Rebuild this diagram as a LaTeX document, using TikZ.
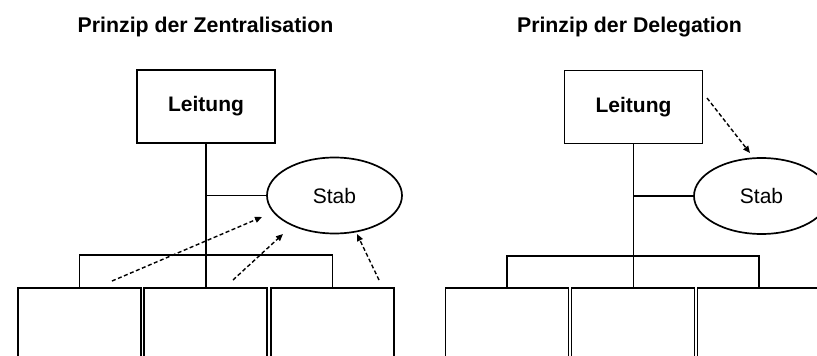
\documentclass[tikz,border=0pt]{standalone}
\usepackage{fontspec}
\setmainfont{Liberation Sans}
\usetikzlibrary{arrows.meta,shapes.geometric}
\begin{document}
\begin{tikzpicture}[x=1pt,y=-1pt,
  lbox/.style={draw,line width=1.7pt,minimum width=138pt,minimum height=73pt,inner sep=0pt,font=\fontsize{21}{25}\selectfont\bfseries},
  stabell/.style={draw,ellipse,line width=1.7pt,minimum width=135pt,minimum height=76pt,inner sep=0pt,font=\fontsize{21}{25}\selectfont},
  unitbox/.style={draw,line width=1.7pt,minimum width=123pt,minimum height=83pt,inner sep=0pt,anchor=north},
  link/.style={line width=1.7pt},
  dasharrow/.style={line width=1.4pt,dash pattern=on 4pt off 2.5pt,-{Triangle[length=7pt,width=6pt]}},
  title/.style={font=\fontsize{21.3}{25}\selectfont\bfseries,anchor=base,inner sep=0pt}]
\path[use as bounding box] (0,0) rectangle (817,356);
\clip (0,0) rectangle (817,356);

% ---------- Zentralisation ----------
\node[title] (tz) at (205.5,32.5) {Prinzip der Zentralisation};
\node[lbox] (lz) at (206,106.5) {Leitung};
\node[stabell] (sz) at (334.5,195.5) {Stab};
\node[unitbox] (bz1) at (79.5,287) {};
\node[unitbox] (bz2) at (205.5,287) {};
\node[unitbox] (bz3) at (332.5,287) {};
\coordinate (busz) at (206,255);
\draw[link] (lz.south) -- (lz.south |- bz2.north);
\draw[link] (lz.south |- sz.west) -- (sz.west);
\draw[link] (bz1.north) |- (busz) -| (bz3.north);
\coordinate (az1) at (112,281);
\coordinate (ez1) at (262,217);
\coordinate (az2) at (233,280);
\coordinate (ez2) at (283,234);
\coordinate (az3) at (379,280);
\coordinate (ez3) at (357,234);
\draw[dasharrow] (az1) -- (ez1);
\draw[dasharrow] (az2) -- (ez2);
\draw[dasharrow] (az3) -- (ez3);

% ---------- Delegation ----------
\node[title] (td) at (629.5,32.5) {Prinzip der Delegation};
\node[lbox] (ld) at (633.5,107) {Leitung};
\node[stabell] (sd) at (761.5,196) {Stab};
\node[unitbox] (bd1) at (507,287) {};
\node[unitbox] (bd2) at (633,287) {};
\node[unitbox] (bd3) at (759,287) {};
\coordinate (busd) at (633,256);
\draw[link] (ld.south) -- (ld.south |- bd2.north);
\draw[link] (ld.south |- sd.west) -- (sd.west);
\draw[link] (bd1.north) |- (busd) -| (bd3.north);
\coordinate (ad) at (707,98);
\coordinate (ed) at (750,153);
\draw[dasharrow] (ad) -- (ed);
\end{tikzpicture}
\end{document}
